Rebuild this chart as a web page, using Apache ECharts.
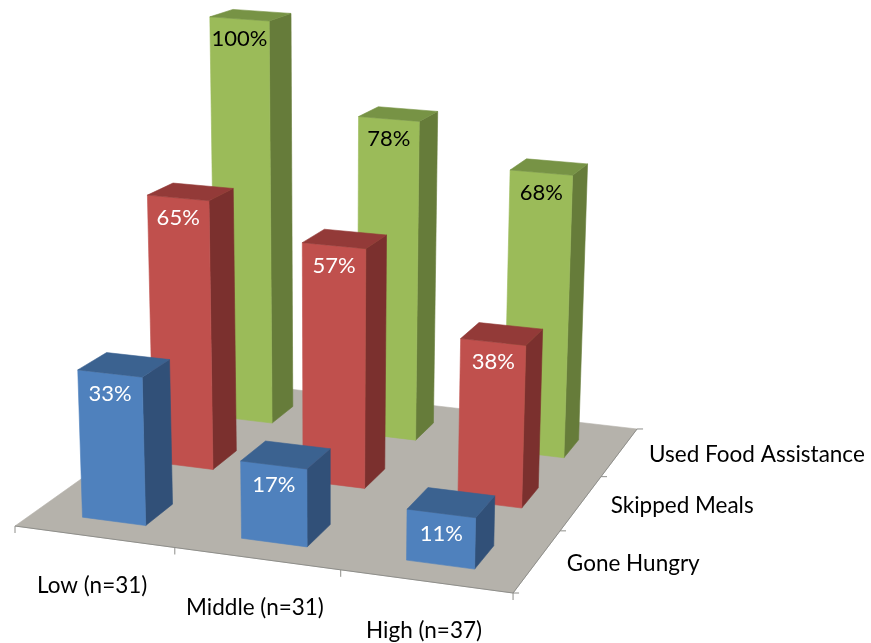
<!DOCTYPE html>
<html>
<head>
<meta charset="utf-8">
<style>html,body{margin:0;padding:0;background:#fff}#c{width:871px;height:643px}</style>
<script src="https://cdn.jsdelivr.net/npm/echarts@6/dist/echarts.min.js"></script>
</head>
<body>
<div id="c"></div>
<script>
const categories = ['Low (n=31)', 'Middle (n=31)', 'High (n=37)'];
const goneHungry = [33, 17, 11];
const skippedMeals = [65, 57, 38];
const usedFoodAssistance = [100, 78, 68];
const depthLabels = ['Gone Hungry', 'Skipped Meals', 'Used Food Assistance'];

// floor plane projection (u along categories, v along depth, both 0..1)
const H = {a:469.8,b:249.5,c:15,d:34.35,e:-65.9,f:526,g:-0.05506,h:0.2077};
const LEAN_X = 330, LEAN_K = 1.3e-4;
function project(u, v, hpx) {
  const w = H.g*u + H.h*v + 1;
  const x = (H.a*u + H.b*v + H.c)/w;
  const y = (H.d*u + H.e*v + H.f)/w;
  const s = (hpx||0)/w;
  return [x + (x-LEAN_X)*LEAN_K*s, y - s];
}
const BAR_HALF_U = 0.067, BAR_HALF_V = 0.063;
const depthCenters = [0.15, 0.495, 0.82];
const depthShiftX = [0, -3, -2];
const depthHeightScale = [1, 0.985, 1.018];
const FONT = 'Lato';

function uOf(api, params, i) {
  const cs = params.coordSys;
  return (api.coord([i, 0])[0] - cs.x) / cs.width;
}
function poly(points, color) {
  return {type:'polygon', shape:{points}, style:{fill:color, stroke:color, lineWidth:0.6}};
}
function line(p, q, color) {
  return {type:'line', shape:{x1:p[0],y1:p[1],x2:q[0],y2:q[1]}, style:{stroke:color, lineWidth:1, fill:null}};
}
function barSeries(name, values, depth, colors, labelColor) {
  return {
    type:'custom', name, coordinateSystem:'cartesian2d', clip:false, z:2+(2-depth),
    data: values.map((v,i)=>[i,v]),
    encode:{x:0,y:1},
    renderItem(params, api) {
      const i = api.value(0), val = api.value(1);
      const hpx = (api.coord([i,0])[1] - api.coord([i,val])[1]) * depthHeightScale[depth];
      const uc = uOf(api, params, i), vc = depthCenters[depth];
      const u0=uc-BAR_HALF_U, u1=uc+BAR_HALF_U, v0=vc-BAR_HALF_V, v1=vc+BAR_HALF_V;
      const sh = p => [p[0]+depthShiftX[depth], p[1]];
      const tfl=sh(project(u0,v0,hpx)), tfr=sh(project(u1,v0,hpx)), tbr=sh(project(u1,v1,hpx)), tbl=sh(project(u0,v1,hpx));
      const bfl=sh(project(u0,v0,0)), bfr=sh(project(u1,v0,0)), bbr=sh(project(u1,v1,0));
      return {type:'group', children:[
        poly([tfr,tbr,bbr,bfr], colors.side),
        poly([tfl,tfr,bfr,bfl], colors.front),
        poly([tfl,tfr,tbr,tbl], colors.top),
        {type:'text', style:{text:val+'%', x:(tfl[0]+tfr[0])/2, y:(tfl[1]+tfr[1])/2+20,
          fill:labelColor, fontFamily:FONT, fontSize:22, align:'center', verticalAlign:'middle'}}
      ]};
    }
  };
}
const floorSeries = {
  type:'custom', name:'Floor', coordinateSystem:'cartesian2d', clip:false, z:1, silent:true,
  data:[[0,0]], encode:{x:0,y:1},
  renderItem() {
    const c = [project(0,0),project(1,0),project(1,1),project(0,1)];
    const kids = [poly(c,'#b5b2ab'), line(c[0],c[1],'#8e8e8a'), line(c[1],c[2],'#8e8e8a')];
    [0,1/3,2/3,1].forEach(t=>{
      const p=project(t,0); kids.push(line(p,[p[0],p[1]+7],'#8e8e8a'));
      const q=project(1,t); kids.push(line(q,[q[0]+6,q[1]],'#8e8e8a'));
    });
    return {type:'group', children:kids};
  }
};
const catLabelSeries = {
  type:'custom', name:'Category labels', coordinateSystem:'cartesian2d', clip:false, z:6, silent:true,
  data:categories.map((c,i)=>[i,0]), encode:{x:0,y:1},
  renderItem(params, api) {
    const i=api.value(0), p=project(uOf(api,params,i),0);
    return {type:'text', style:{text:categories[i], x:p[0]-2, y:p[1]+49, fill:'#000',
      fontFamily:FONT, fontSize:22.5, align:'center', verticalAlign:'middle'}};
  }
};
const depthLabelSeries = {
  type:'custom', name:'Depth labels', coordinateSystem:'cartesian2d', clip:false, z:6, silent:true,
  data:depthLabels.map((c,i)=>[0,0,i]), encode:{x:0,y:1},
  renderItem(params, api) {
    const d=api.value(2), p=project(1,(d+0.5)/3);
    return {type:'text', style:{text:depthLabels[d], x:p[0]+29.5, y:p[1]+2.5, fill:'#000',
      fontFamily:FONT, fontSize:22.5, align:'left', verticalAlign:'middle'}};
  }
};
const chart = echarts.init(document.getElementById('c'), null, {renderer:'canvas'});
chart.setOption({
  animation:false,
  backgroundColor:'#fff',
  grid:{left:0, width:871, top:100, height:452, containLabel:false},
  xAxis:{type:'category', data:categories, show:false, boundaryGap:true},
  yAxis:{type:'value', min:0, max:100, show:false},
  tooltip:{show:false},
  series:[
    floorSeries,
    barSeries('Used Food Assistance', usedFoodAssistance, 2, {front:'#9bbb59',side:'#667c3a',top:'#779345'}, '#000'),
    barSeries('Skipped Meals', skippedMeals, 1, {front:'#c0504d',side:'#7b302e',top:'#933a38'}, '#fff'),
    barSeries('Gone Hungry', goneHungry, 0, {front:'#4f81bd',side:'#315078',top:'#3b6290'}, '#fff'),
    catLabelSeries,
    depthLabelSeries
  ]
});
</script>
</body>
</html>
